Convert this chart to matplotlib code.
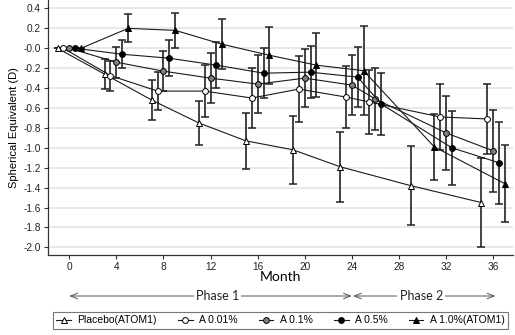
import numpy as np
import matplotlib
matplotlib.use('Agg')
import matplotlib.pyplot as plt
from matplotlib.lines import Line2D

plt.rcParams['font.family'] = ['Liberation Sans', 'DejaVu Sans']
plt.rcParams['axes.unicode_minus'] = False

# Visit months (ATOM1 arms and ATOM2 arms)
months_atom1 = [0, 4, 8, 12, 16, 20, 24, 30, 36]
months_atom2 = [0, 4, 8, 12, 16, 20, 24, 26, 32, 36]

# Mean change in spherical equivalent (D) and error bar half-widths
placebo = [0, -0.26, -0.52, -0.75, -0.93, -1.02, -1.19, -1.38, -1.55]
placebo_err = [0, 0.15, 0.20, 0.22, 0.28, 0.34, 0.35, 0.40, 0.45]

a001 = [0, -0.275, -0.43, -0.43, -0.50, -0.41, -0.49, -0.54, -0.69, -0.71]
a001_err = [0, 0.15, 0.19, 0.26, 0.30, 0.33, 0.31, 0.32, 0.33, 0.35]

a01 = [0, -0.14, -0.23, -0.30, -0.36, -0.30, -0.37, -0.51, -0.85, -1.03]
a01_err = [0, 0.155, 0.20, 0.25, 0.29, 0.29, 0.30, 0.31, 0.37, 0.41]

a05 = [0, -0.06, -0.10, -0.17, -0.25, -0.24, -0.29, -0.56, -1.00, -1.15]
a05_err = [0, 0.14, 0.18, 0.23, 0.25, 0.26, 0.30, 0.31, 0.37, 0.41]

a10 = [0, 0.20, 0.18, 0.04, -0.07, -0.17, -0.225, -0.99, -1.36]
a10_err = [0, 0.14, 0.175, 0.25, 0.285, 0.32, 0.445, 0.33, 0.39]

series = [
    ('Placebo(ATOM1)', months_atom1, placebo, placebo_err, -1.0, '^', 'white'),
    ('A 0.01%', months_atom2, a001, a001_err, -0.5, 'o', 'white'),
    ('A 0.1%', months_atom2, a01, a01_err, 0.0, 'o', '#7f7f7f'),
    ('A 0.5%', months_atom2, a05, a05_err, 0.5, 'o', 'black'),
    ('A 1.0%(ATOM1)', months_atom1, a10, a10_err, 1.0, '^', 'black'),
]

fig = plt.figure(figsize=(5.15, 3.35), dpi=100)
ax = fig.add_axes([0.0932, 0.2388, 0.903, 0.7612])

handles = []
for label, m, y, e, shift, mk, fc in series:
    x = np.array(m) + shift
    ms = 5 if mk == '^' else 4.2
    ax.errorbar(x, y, yerr=e, fmt='none', ecolor='#222222', elinewidth=1.2,
                capsize=2.8, capthick=1.1, zorder=2)
    ax.plot(x, y, color='#1a1a1a', lw=0.8, marker=mk, ms=ms, mfc=fc,
            mec='black', mew=0.7, zorder=3)
    handles.append(Line2D([], [], color='#1a1a1a', lw=0.8, marker=mk, ms=ms,
                          mfc=fc, mec='black', mew=0.7, label=label))

ax.set_xlim(-1.81, 37.7)
ax.set_ylim(-2.077, 0.485)
ax.set_xticks(np.arange(0, 37, 4))
ax.set_yticks(np.arange(-2.0, 0.41, 0.2))
ax.set_yticklabels(['%.1f' % v for v in np.arange(-2.0, 0.41, 0.2)])
ax.yaxis.grid(True, color='#e6e6e6', lw=1.3)
ax.set_axisbelow(True)
for s in ['top', 'right']:
    ax.spines[s].set_visible(False)
for s in ['left', 'bottom']:
    ax.spines[s].set_color('#333333')
    ax.spines[s].set_linewidth(0.9)
ax.tick_params(labelsize=7.3, length=3, width=0.8, pad=2, colors='#333333',
               labelcolor='#222222')

ax.set_xlabel('Month', fontsize=10, family='Lato', labelpad=-1)
ax.set_ylabel('Spherical Equivalent (D)', fontsize=8, labelpad=3)

# Phase arrows under the axis
tr = ('data', 'figure fraction')
arrow = dict(arrowstyle='<->, head_length=0.5, head_width=0.2', color='#555555', lw=0.7,
             shrinkA=0, shrinkB=0)
ax.annotate('', xy=(0, 0.1164), xytext=(24.0, 0.1164), xycoords=tr, textcoords=tr,
            arrowprops=arrow, annotation_clip=False)
ax.annotate('', xy=(24.1, 0.1164), xytext=(36.2, 0.1164), xycoords=tr, textcoords=tr,
            arrowprops=arrow, annotation_clip=False)
for xm, txt in [(12.6, 'Phase 1'), (29.9, 'Phase 2')]:
    ax.annotate(txt, xy=(xm, 0.1164), xycoords=tr, ha='center', va='center',
                fontsize=9, family='Lato', color='#222222', annotation_clip=False,
                bbox=dict(facecolor='white', edgecolor='none', pad=1.5))

leg = fig.legend(handles=handles, loc='center', bbox_to_anchor=(0.5447, 0.0433),
                 ncol=5, fontsize=7.5, frameon=True, fancybox=False,
                 edgecolor='#555555', handlelength=1.4, handletextpad=0.6,
                 columnspacing=2.05, borderpad=0.35)
leg.get_frame().set_linewidth(0.8)

fig.savefig('out.png', dpi=100)
